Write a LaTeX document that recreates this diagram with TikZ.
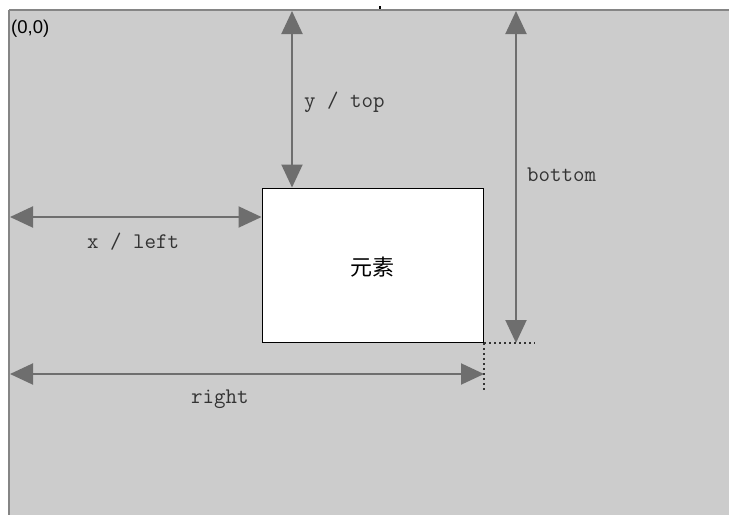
\documentclass[tikz,border=0pt]{standalone}
\usepackage{fontspec}
\setmainfont{Liberation Sans}
\newfontfamily\cjkf{Noto Sans CJK SC}
\usetikzlibrary{arrows.meta}
\definecolor{bggrey}{HTML}{CCCCCC}
\definecolor{edgegrey}{HTML}{858585}
\definecolor{arrgrey}{HTML}{6E6E6E}
\tikzset{
 dimline/.style={draw=arrgrey, line width=2pt, {Triangle[length=23pt,width=21pt]}-{Triangle[length=23pt,width=21pt]}},
 lbl/.style={inner sep=0pt, anchor=base west, font=\ttfamily\fontsize{22.3}{23}\selectfont, text=black!80},
 guide/.style={draw=black!80, line width=1.5pt, dash pattern=on 2pt off 3pt}
}
\begin{document}
\begin{tikzpicture}[x=1pt,y=-1pt]
\useasboundingbox (0,0) rectangle (729,515);
\fill[bggrey] (9,10) rectangle (729,515);
\draw[edgegrey, line width=1.5pt] (9,10) -- (729,10);
\draw[edgegrey, line width=2pt] (9,10) -- (9,515);
\fill[black] (378.5,5.5) rectangle (380.5,8.5);
\node[draw=black, line width=1.5pt, fill=white, minimum width=221pt, minimum height=154pt, anchor=north west, inner sep=0pt] (el) at (261.5,187.5) {};
\node[inner sep=0pt, font=\cjkf\fontsize{22}{22}\selectfont] (eltext) at ([yshift=-1.5pt]el.center) {元素};
\node[inner sep=0pt, anchor=base west, font=\fontsize{18.5}{19}\selectfont] (origin) at (11,33) {(0,0)};
% coordinates for the dimension arrows
\coordinate (ytopA) at (292,11);
\coordinate (ytopB) at (ytopA |- el.north);
\coordinate (botA) at (516,11);
\coordinate (botB) at (botA |- el.south);
\coordinate (xA) at (10,217);
\coordinate (xB) at (xA -| el.west);
\coordinate (rA) at (10,374);
\coordinate (rB) at (rA -| el.south east);
\coordinate (gh) at ([xshift=51pt]el.south east);
\coordinate (gv) at ([yshift=-49pt]el.south east);
\draw[dimline] (ytopA) -- (ytopB);
\draw[dimline] (botA) -- (botB);
\draw[dimline] (xA) -- (xB);
\draw[dimline] (rA) -- (rB);
\draw[guide] (el.south east) -- (gh);
\draw[guide] (el.south east) -- (gv);
\node[lbl] (ltop) at (304,107) {y / top};
\node[lbl] (lbot) at (527,181) {bottom};
\node[lbl] (lleft) at (87,248) {x / left};
\node[lbl] (lright) at (191,403) {right};
\end{tikzpicture}
\end{document}
